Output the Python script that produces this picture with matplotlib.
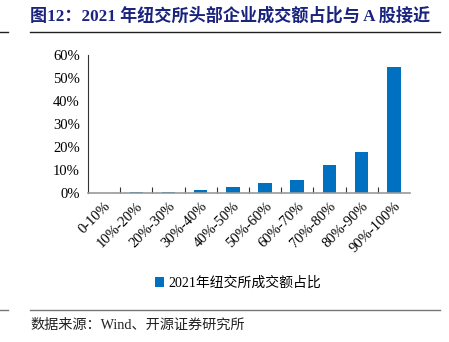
import matplotlib.pyplot as plt
from matplotlib.lines import Line2D
from matplotlib.ticker import PercentFormatter

plt.rcParams['font.family'] = ['Liberation Serif', 'Noto Sans CJK SC', 'DejaVu Sans']

# 成交额分组
categories = ['0-10%', '10%-20%', '20%-30%', '30%-40%', '40%-50%',
              '50%-60%', '60%-70%', '70%-80%', '80%-90%', '90%-100%']
share = [0.1, 0.2, 0.6, 1.2, 2.5, 4.2, 5.5, 12.1, 17.9, 55.0]
series_name = '2021年纽交所成交额占比'
title = '图12：2021 年纽交所头部企业成交额占比与 A 股接近'
source = '数据来源：Wind、开源证券研究所'

fig = plt.figure(figsize=(4.49, 3.42), dpi=100)
ax = fig.add_axes([0.196, 0.436, 0.717, 0.403])

x = range(len(categories))
ax.bar(x, share, width=0.42, color='#0070C0', label=series_name, zorder=2)

ax.set_xlim(-0.5, len(categories) - 0.5)
ax.set_ylim(0, 60)
ax.set_yticks(range(0, 61, 10))
ax.yaxis.set_major_formatter(PercentFormatter(decimals=0))
ax.tick_params(axis='y', length=0, labelsize=10.5, pad=6)

# x 轴刻度在分组之间, 标签在中间
ax.set_xticks([i + 0.5 for i in range(len(categories) - 1)])
ax.set_xticklabels([])
ax.set_xticks(list(x), minor=True)
ax.set_xticklabels(categories, minor=True, rotation=45, ha='right',
                   rotation_mode='anchor', fontsize=10.5)
ax.tick_params(axis='x', which='major', direction='in', length=4, color='#333333')
ax.tick_params(axis='x', which='minor', length=0, pad=5)

for s in ['top', 'right']:
    ax.spines[s].set_visible(False)
ax.spines['left'].set_color('#333333')
ax.spines['bottom'].set_color('#999999')
ax.spines['bottom'].set_linewidth(1.2)

fig.legend(loc='center', bbox_to_anchor=(0.53, 0.172), frameon=False,
           fontsize=10, handlelength=0.7, handleheight=0.7, handletextpad=0.3)

fig.text(0.067, 0.953, title, fontsize=12.3, fontweight='bold',
         color='#1A237E', va='center')
fig.add_artist(Line2D([0.067, 0.98], [0.906, 0.906], color='#222222', lw=1.0))
fig.add_artist(Line2D([0.0, 0.018], [0.906, 0.906], color='#222222', lw=1.0))
fig.add_artist(Line2D([0.067, 0.98], [0.094, 0.094], color='#777777', lw=1.0))
fig.add_artist(Line2D([0.0, 0.018], [0.094, 0.094], color='#777777', lw=1.0))
fig.text(0.067, 0.05, source, fontsize=10.2, color='#222222', va='center')

fig.savefig('out.png', dpi=100)
